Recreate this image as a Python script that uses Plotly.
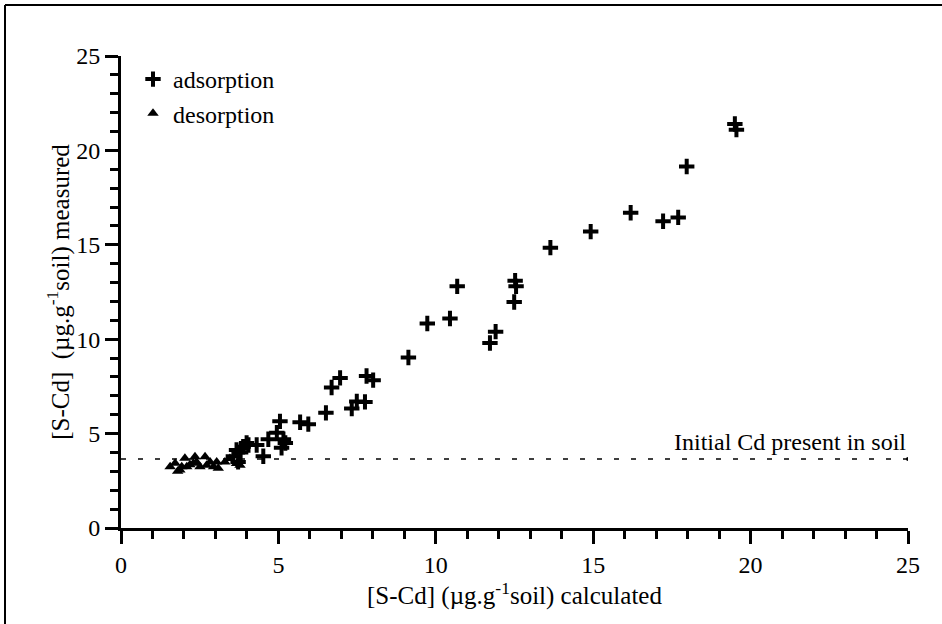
import plotly.graph_objects as go

# Cd sorbed on soil: measured vs model-calculated (µg per g soil)
ads_calc = [19.50, 19.55, 17.97, 17.22, 17.70, 16.19, 14.92, 13.64, 12.52, 12.55,
            12.49, 11.90, 11.72, 10.68, 10.45, 9.73, 9.13, 6.96, 6.69, 7.80,
            8.01, 7.75, 7.49, 7.33, 6.51, 5.95, 5.69, 5.05, 4.95, 4.68,
            4.52, 4.31, 3.99, 5.16, 5.10, 5.22, 3.67, 3.57, 3.72, 3.88,
            4.05, 3.80]
ads_meas = [21.40, 21.10, 19.15, 16.25, 16.45, 16.70, 15.70, 14.85, 13.10, 12.80,
            11.97, 10.40, 9.80, 12.80, 11.10, 10.83, 9.03, 7.95, 7.44, 8.05,
            7.83, 6.68, 6.70, 6.33, 6.10, 5.50, 5.60, 5.65, 5.05, 4.70,
            3.80, 4.40, 4.50, 4.70, 4.25, 4.50, 4.13, 3.80, 3.50, 4.30,
            4.40, 4.00]

des_calc = [1.56, 1.72, 1.87, 2.03, 2.09, 2.30, 2.35, 2.51, 2.67, 2.72,
            2.83, 3.04, 3.09, 3.30, 3.46, 3.67, 3.78, 1.80, 1.93, 2.19,
            2.40, 2.94]
des_meas = [3.24, 3.43, 3.07, 3.70, 3.24, 3.43, 3.77, 3.24, 3.77, 3.33,
            3.50, 3.50, 3.16, 3.50, 3.68, 3.42, 3.33, 3.00, 3.25, 3.35,
            3.50, 3.25]

initial_cd = 3.66
axis_range = [0, 25]
major_ticks = [0, 5, 10, 15, 20, 25]

FONT = "Liberation Serif"
ML, MR, MT, MB = 121, 34, 56, 96
W, H = 942, 624
PW, PH = W - ML - MR, H - MT - MB

fig = go.Figure()

fig.add_trace(go.Scatter(
    x=ads_calc, y=ads_meas, mode="markers", name="adsorption",
    marker=dict(symbol="cross-thin-open", size=11, color="black",
                line=dict(width=4, color="black")),
))
fig.add_trace(go.Scatter(
    x=des_calc, y=des_meas, mode="markers", name="desorption",
    marker=dict(symbol="triangle-up", size=10, color="black",
                line=dict(width=0)),
))

# dotted reference level of Cd initially in the soil
fig.add_trace(go.Scatter(
    x=[0, axis_range[1]], y=[initial_cd, initial_cd], mode="lines",
    line=dict(color="black", width=1.5, dash="5px,12px"),
    showlegend=False, hoverinfo="skip",
))
fig.add_trace(go.Scatter(
    x=[axis_range[1]], y=[initial_cd], mode="markers",
    marker=dict(size=4, color="black"), showlegend=False, hoverinfo="skip",
))
fig.add_annotation(
    x=axis_range[1], y=initial_cd, xref="x", yref="y",
    text="Initial Cd present in soil", showarrow=False,
    xanchor="right", yanchor="bottom", yshift=2,
    font=dict(family=FONT, size=24, color="black"),
)

axis_common = dict(
    range=axis_range, tickvals=major_ticks, ticks="outside",
    tickwidth=3, tickcolor="black", showline=True, linecolor="black",
    linewidth=3, showgrid=False, zeroline=False,
    tickfont=dict(family=FONT, size=24, color="black"),
    minor=dict(dtick=1, ticks="outside", ticklen=8, tickwidth=3,
               tickcolor="black", showgrid=False),
)

fig.update_xaxes(
    **axis_common, ticklen=13,
    title=dict(text="[S-Cd] (µg.g<sup>-1</sup>soil) calculated",
               font=dict(family=FONT, size=25, color="black"), standoff=0),
)
fig.update_yaxes(
    **axis_common, ticklen=13,
    title=dict(text="[S-Cd]  (µg.g<sup>-1</sup>soil) measured",
               font=dict(family=FONT, size=25, color="black"), standoff=0),
)

# frame lines along the top and left of the figure
def px_x(px):
    return (px - ML) / PW

def px_y(py):
    return (H - MB - py) / PH

fig.add_shape(type="line", xref="paper", yref="paper",
              x0=px_x(5), x1=px_x(W), y0=px_y(5), y1=px_y(5),
              line=dict(color="black", width=2))
fig.add_shape(type="line", xref="paper", yref="paper",
              x0=px_x(5), x1=px_x(5), y0=px_y(5), y1=px_y(H),
              line=dict(color="black", width=2))

fig.update_layout(
    width=W, height=H,
    margin=dict(l=ML, r=MR, t=MT, b=MB, autoexpand=False),
    paper_bgcolor="white", plot_bgcolor="white",
    showlegend=True,
    font=dict(family=FONT, color="black"),
    legend=dict(x=px_x(133), y=px_y(57), xanchor="left", yanchor="top",
                bgcolor="rgba(0,0,0,0)",
                font=dict(family=FONT, size=24, color="black")),
)

fig.write_html("out.html")
